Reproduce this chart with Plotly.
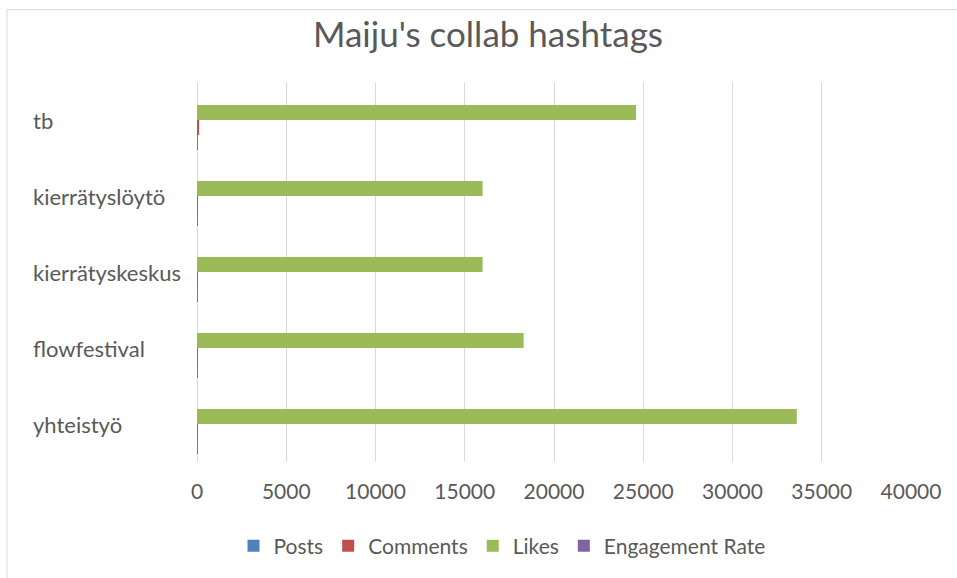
import plotly.graph_objects as go

# Hashtag categories (bottom to top) and metrics per hashtag
hashtags = ["yhteistyö", "flowfestival", "kierrätyskeskus", "kierrätyslöytö", "tb"]
posts = [4, 2, 1, 1, 3]
comments = [40, 30, 10, 10, 120]
likes = [33600, 18300, 16000, 16000, 24600]
engagement_rate = [0.05, 0.04, 0.03, 0.03, 0.06]

series = [
    ("Posts", posts, "#4F81BD"),
    ("Comments", comments, "#C0504D"),
    ("Likes", likes, "#9BBB59"),
    ("Engagement Rate", engagement_rate, "#8064A2"),
]

FONT = "Lato, Open Sans, sans-serif"
TEXT = "#595959"

fig = go.Figure()
for name, vals, color in series:
    fig.add_trace(go.Bar(
        y=hashtags, x=vals, name=name, orientation="h",
        marker=dict(color=color, line=dict(width=0)),
    ))

# Left-aligned category labels
for h in hashtags:
    fig.add_annotation(
        x=(31 - 197) / 714, xref="paper", y=h, yref="y",
        text=h, showarrow=False, xanchor="left", yanchor="middle",
        font=dict(family=FONT, size=22, color=TEXT),
    )

# Chart frame
fig.add_shape(
    type="rect", xref="paper", yref="paper",
    x0=(7 - 197) / 714, x1=(980 - 197) / 714,
    y0=(462 - 600) / 380, y1=(462 - 9.5) / 380,
    line=dict(color="#d9d9d9", width=1), fillcolor="rgba(0,0,0,0)", layer="below",
)

fig.update_layout(
    width=957, height=578,
    margin=dict(l=197, r=46, t=82, b=116),
    paper_bgcolor="white", plot_bgcolor="white",
    barmode="group", bargap=0.21, bargroupgap=0,
    title=dict(
        text="Maiju's collab hashtags", x=488 / 957, xanchor="center",
        y=1 - 35 / 578, yanchor="middle", yref="container",
        font=dict(family=FONT, size=35, color=TEXT),
    ),
    xaxis=dict(
        range=[0, 40000], dtick=5000, tickformat="d",
        showgrid=True, gridcolor="#d9d9d9", gridwidth=1,
        zeroline=True, zerolinecolor="#d9d9d9", zerolinewidth=1,
        showline=False, ticks="", ticklabelstandoff=15,
        tickfont=dict(family=FONT, size=21, color=TEXT),
    ),
    yaxis=dict(showticklabels=False, showgrid=False, zeroline=False, ticks=""),
    legend=dict(
        orientation="h", x=(502 - 197) / 714, xanchor="center",
        y=(462 - 546) / 380, yanchor="middle",
        font=dict(family=FONT, size=21, color=TEXT),
        itemwidth=30, traceorder="normal",
    ),
    showlegend=True,
)

fig.write_html("out.html")
